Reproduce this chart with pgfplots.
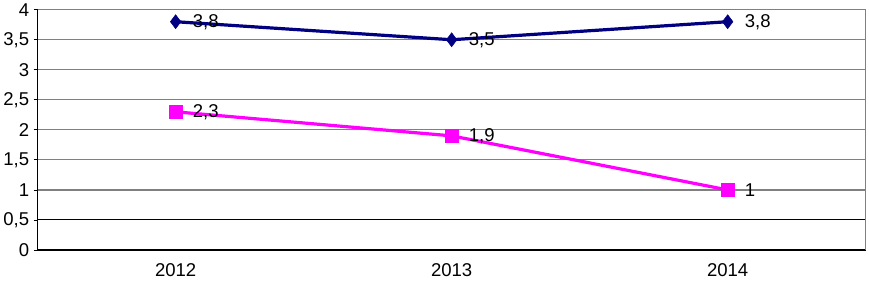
\documentclass[border=0pt]{standalone}
\usepackage{fontspec}
\setmainfont{Liberation Sans}
\usepackage{pgfplots}
\pgfplotsset{compat=1.18}
\definecolor{navyline}{RGB}{0,0,128}
\definecolor{magline}{RGB}{255,0,255}
\definecolor{gridgray}{RGB}{128,128,128}
\begin{document}
\begin{tikzpicture}
\begin{axis}[
  scale only axis,
  width=827pt, height=240pt,
  xmin=-0.5, xmax=2.5,
  ymin=0, ymax=4,
  xtick={0,1,2},
  xticklabels={2012,2013,2014},
  extra x ticks={-0.5,0.5,1.5,2.5},
  extra x tick labels={},
  extra x tick style={major tick length=5pt, tick style={black, line width=0.8pt}},
  ytick={0,1,1.5,2,2.5,3,3.5,4},
  extra y ticks={0.5},
  extra y tick style={major grid style={black, line width=1pt}},
  ymajorgrids,
  major grid style={gridgray, line width=1.2pt},
  x tick style={draw=none},
  y tick style={black, line width=0.8pt},
  tick align=outside,
  major tick length=4pt,
  axis x line*=bottom,
  axis y line*=left,
  axis line style={black, line width=1.2pt, -},
  /pgf/number format/use comma,
  /pgf/number format/assume math mode=true,
  tick label style={font=\fontsize{18.5}{22}\selectfont, text=black},
  yticklabel style={xshift=-1pt},
  xticklabel style={yshift=-6pt},
  clip=false,
  nodes near coords,
  nodes near coords style={font=\fontsize{18.5}{22}\selectfont, text=black, anchor=west, inner sep=0pt, xshift=17pt, /pgf/number format/use comma, /pgf/number format/assume math mode=true},
]
\draw[gridgray, line width=1.5pt] (axis cs:-0.5,4) -- (axis cs:2.5,4) -- (axis cs:2.5,0);
\addplot[navyline, line width=3.2pt, mark=diamond*, mark size=7pt, mark options={solid, fill=navyline, line width=0.5pt}]
  coordinates {(0,3.8) (1,3.5) (2,3.8)};
\addplot[magline, line width=3.2pt, mark=square*, mark size=6.5pt, mark options={solid, fill=magline, line width=0.5pt}]
  coordinates {(0,2.3) (1,1.9) (2,1)};
\end{axis}
\end{tikzpicture}
\end{document}
